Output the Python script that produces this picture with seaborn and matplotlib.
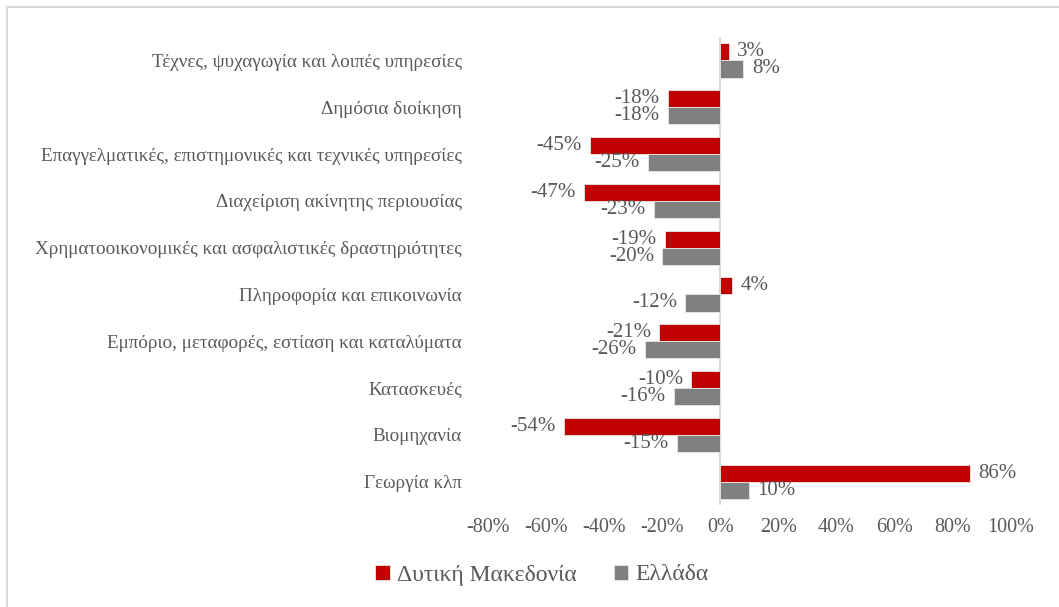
import pandas as pd
import seaborn as sns
import matplotlib.pyplot as plt
from matplotlib.patches import Rectangle
from matplotlib.ticker import FuncFormatter

# data (percent change)
sectors = [
    "Τέχνες, ψυχαγωγία και λοιπές υπηρεσίες",
    "Δημόσια διοίκηση",
    "Επαγγελματικές, επιστημονικές και τεχνικές υπηρεσίες",
    "Διαχείριση ακίνητης περιουσίας",
    "Χρηματοοικονομικές και ασφαλιστικές δραστηριότητες",
    "Πληροφορία και επικοινωνία",
    "Εμπόριο, μεταφορές, εστίαση και καταλύματα",
    "Κατασκευές",
    "Βιομηχανία",
    "Γεωργία κλπ",
]
dyt_makedonia = [3, -18, -45, -47, -19, 4, -21, -10, -54, 86]
ellada = [8, -18, -25, -23, -20, -12, -26, -16, -15, 10]
series_names = ["Δυτική Μακεδονία", "Ελλάδα"]
x_ticks = [-80, -60, -40, -20, 0, 20, 40, 60, 80, 100]

df = pd.DataFrame({
    "sector": sectors * 2,
    "value": dyt_makedonia + ellada,
    "series": [series_names[0]] * len(sectors) + [series_names[1]] * len(sectors),
})

sns.set_style("white")
plt.rcParams["font.family"] = ["Liberation Serif", "DejaVu Serif"]
txt = "#595959"

fig = plt.figure(figsize=(10.59, 6.07), dpi=100)
ax = fig.add_axes([0.461, 0.168, 0.493, 0.771])

sns.barplot(data=df, x="value", y="sector", hue="series", order=sectors,
            hue_order=series_names, palette=["#C00000", "#808080"],
            orient="h", width=0.73, ax=ax, legend=True, saturation=1,
            edgecolor="#E8E8E8", linewidth=0.6)

for cont in ax.containers:
    ax.bar_label(cont, labels=[f"{v:.0f}%" for v in cont.datavalues],
                 padding=6, fontsize=15, color=txt)

ax.set_xlim(-80, 100)
ax.set_xticks(x_ticks)
ax.xaxis.set_major_formatter(FuncFormatter(lambda v, p: f"{v:.0f}%"))
ax.set_xlabel("")
ax.set_ylabel("")
ax.axvline(0, color="#D9D9D9", lw=1.5, zorder=0)
sns.despine(ax=ax, left=True, bottom=True)
ax.tick_params(axis="x", length=0, colors=txt, labelsize=14.5, pad=9)
ax.tick_params(axis="y", length=0, colors=txt, labelsize=13.8, pad=19)

ax.legend(loc="center", bbox_to_anchor=(542 / 1059, 1 - 575 / 607),
          bbox_transform=fig.transFigure,
          ncol=2, frameon=False, fontsize=17, labelcolor=txt,
          handlelength=0.6, handleheight=0.6, handletextpad=0.3, columnspacing=1.6)

fig.patches.append(Rectangle((0.007, -0.1), 1.5, 1.088, transform=fig.transFigure,
                             fill=False, edgecolor="#D9D9D9", lw=1.5))

fig.savefig("out.png", dpi=100)
